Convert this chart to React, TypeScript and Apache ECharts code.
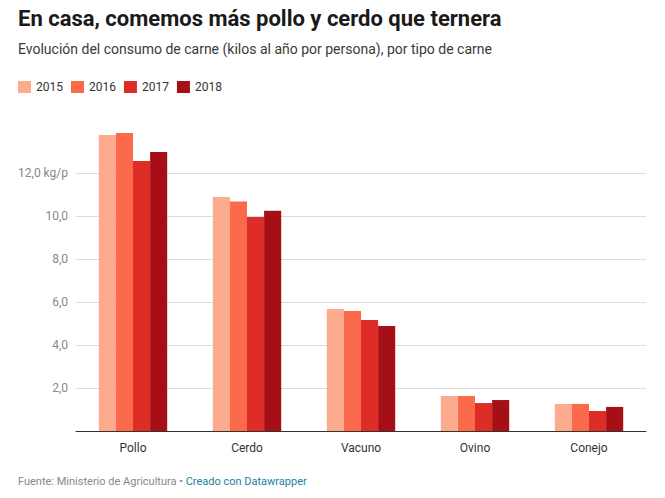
import React, { useEffect, useRef } from "react";
import * as echarts from "echarts";

const categories = ["Pollo", "Cerdo", "Vacuno", "Ovino", "Conejo"];
const years = ["2015", "2016", "2017", "2018"];
const values2015 = [13.77, 10.88, 5.67, 1.63, 1.26];
const values2016 = [13.86, 10.67, 5.58, 1.63, 1.26];
const values2017 = [12.56, 9.95, 5.16, 1.3, 0.93];
const values2018 = [12.98, 10.25, 4.88, 1.44, 1.12];
const seriesValues = [values2015, values2016, values2017, values2018];
const colors = ["#fcab8f", "#fb6a4a", "#de2d26", "#a50f15"];

const titleText = "En casa, comemos más pollo y cerdo que ternera";
const subtitleText =
  "Evolución del consumo de carne (kilos al año por persona), por tipo de carne";

export default function App() {
  const ref = useRef<HTMLDivElement>(null);
  useEffect(() => {
    if (!ref.current) return;
    const chart = echarts.init(ref.current, null, { renderer: "svg" });
    const font = "Roboto, 'Noto Sans', sans-serif";
    chart.setOption({
      animation: false,
      textStyle: { fontFamily: font },
      color: colors,
      legend: {
        data: years,
        left: 13,
        top: 76,
        icon: "rect",
        itemWidth: 13,
        itemHeight: 12,
        itemGap: 8,
        selectedMode: false,
        textStyle: { color: "#333", fontSize: 12, fontFamily: font },
      },
      grid: { left: 76, right: 19, top: 130, bottom: 67, containLabel: false },
      xAxis: {
        type: "category",
        data: categories,
        axisTick: { show: false },
        axisLine: { lineStyle: { color: "#333", width: 1 } },
        axisLabel: { color: "#333", fontSize: 12, margin: 11, fontFamily: font },
      },
      yAxis: {
        type: "value",
        min: 0,
        max: 14,
        interval: 2,
        axisLine: { show: false },
        axisTick: { show: false },
        splitLine: {
          show: true,
          showMinLine: false,
          showMaxLine: false,
          lineStyle: { color: "#dcdcdc", width: 1 },
        },
        axisLabel: {
          color: "#888",
          fontSize: 12,
          margin: 8,
          fontFamily: font,
          formatter: (v: number) => {
            if (v === 0 || v === 14) return "";
            const s = v.toFixed(1).replace(".", ",");
            return v === 12 ? s + " kg/p" : s;
          },
        },
      },
      series: years.map((y, i) => ({
        name: y,
        type: "bar",
        data: seriesValues[i],
        barGap: "0%",
        barCategoryGap: "40%",
        itemStyle: { color: colors[i] },
      })),
      graphic: [
        {
          type: "text",
          left: 18,
          top: 7,
          style: {
            text: titleText,
            fill: "#1a1a1a",
            fontSize: 22,
            fontWeight: "bold",
            fontFamily: font,
          },
        },
        {
          type: "text",
          left: 18,
          top: 42,
          style: {
            text: subtitleText,
            fill: "#3a3a3a",
            fontSize: 14,
            fontFamily: font,
          },
        },
        {
          type: "text",
          left: 18,
          top: 476,
          style: {
            text: "{a|Fuente: Ministerio de Agricultura • }{b|Creado con Datawrapper}",
            fontFamily: font,
            rich: {
              a: { fill: "#888", fontSize: 11, fontFamily: font },
              b: { fill: "#1d81a2", fontSize: 11, fontFamily: font },
            },
          },
        },
      ],
    });
    return () => chart.dispose();
  }, []);
  return (
    <div
      ref={ref}
      style={{ position: "fixed", left: 0, top: 0, width: 665, height: 498, background: "#fff" }}
    />
  );
}
